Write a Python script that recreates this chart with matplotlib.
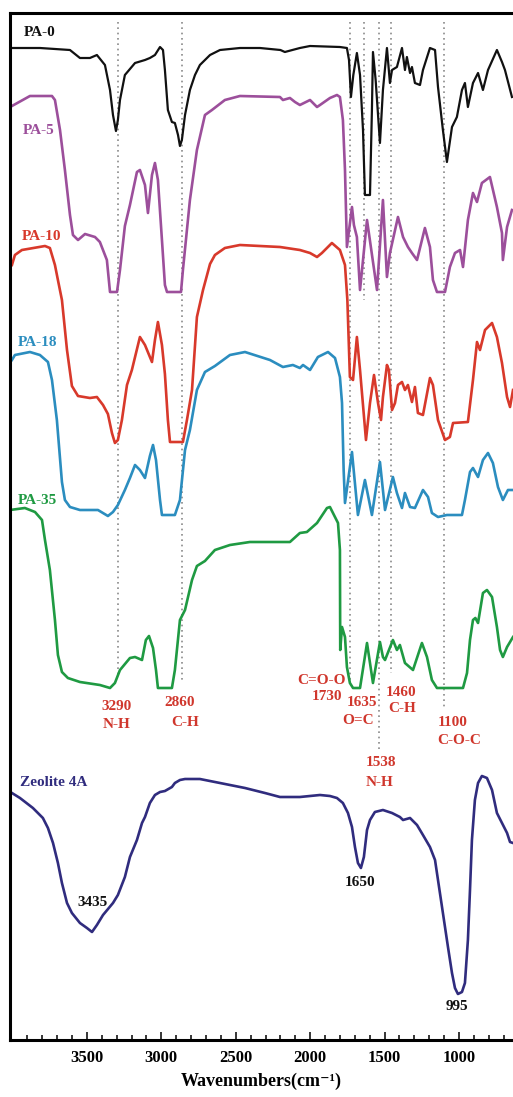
import matplotlib
matplotlib.use("Agg")
import matplotlib.pyplot as plt
from matplotlib.ticker import FixedLocator

# spectra: wavenumber (cm-1) and depth from the top of the frame
pa0_wn = [4004, 3815, 3614, 3547, 3480, 3433, 3379, 3345, 3325, 3305, 3292, 3278, 3245, 3177, 3110, 3077,
          3043, 3009, 2989, 2976, 2956, 2929, 2909, 2888, 2875, 2862, 2841, 2808, 2774, 2741, 2673, 2606,
          2472, 2337, 2200, 2170, 2069, 2001, 1800, 1753, 1739, 1726, 1710, 1686, 1665, 1645, 1632, 1598,
          1585, 1578, 1560, 1531, 1511, 1484, 1464, 1450, 1417, 1383, 1363, 1350, 1329, 1316, 1296, 1262,
          1242, 1195, 1161, 1141, 1108, 1081, 1047, 1014, 980, 960, 940, 906, 872, 839, 805, 745, 711, 691, 644]
pa0_t = [48, 48, 50, 58, 58, 55, 65, 90, 115, 131, 120, 100, 75, 63, 60, 58,
         55, 47, 50, 70, 110, 122, 123, 135, 146, 140, 115, 90, 75, 65, 55, 50,
         48, 48, 50, 52, 48, 46, 47, 48, 60, 97, 75, 53, 75, 130, 195, 195,
         110, 52, 80, 143, 90, 48, 83, 70, 67, 48, 70, 57, 73, 67, 83, 85,
         70, 48, 50, 87, 130, 162, 127, 117, 90, 83, 107, 83, 73, 90, 70, 50, 62, 70, 97]

pa5_wn = [4004, 3883, 3735, 3715, 3681, 3648, 3614, 3594, 3560, 3513, 3446, 3413, 3366, 3345, 3298, 3278,
          3245, 3211, 3164, 3144, 3110, 3090, 3063, 3043, 3023, 2996, 2976, 2962, 2868, 2855, 2808, 2761,
          2707, 2660, 2573, 2472, 2203, 2183, 2136, 2102, 2069, 2001, 1954, 1934, 1867, 1820, 1800, 1780,
          1766, 1753, 1719, 1706, 1686, 1665, 1618, 1551, 1511, 1484, 1464, 1410, 1376, 1343, 1316, 1282,
          1229, 1195, 1175, 1148, 1094, 1061, 1027, 993, 973, 940, 906, 879, 846, 792, 745, 711, 705, 677, 644]
pa5_t = [106, 96, 96, 100, 130, 170, 215, 235, 240, 234, 237, 242, 260, 292, 292, 270,
         226, 205, 172, 170, 185, 213, 175, 163, 180, 240, 285, 292, 292, 270, 200, 150,
         115, 110, 100, 96, 97, 100, 98, 102, 105, 100, 107, 105, 98, 95, 97, 120,
         170, 247, 207, 225, 237, 290, 220, 290, 200, 277, 253, 217, 237, 247, 253, 260,
         228, 247, 280, 292, 292, 267, 253, 250, 267, 220, 193, 202, 183, 177, 207, 233, 260, 227, 210]

pa10_wn = [4004, 3984, 3937, 3782, 3749, 3715, 3695, 3668, 3634, 3601, 3560, 3480, 3433, 3392, 3359, 3332,
           3312, 3292, 3265, 3231, 3198, 3144, 3110, 3063, 3043, 3023, 2996, 2976, 2956, 2942, 2855, 2828,
           2794, 2761, 2720, 2673, 2640, 2573, 2472, 2203, 2069, 2001, 1954, 1921, 1854, 1800, 1766, 1750,
           1733, 1712, 1686, 1665, 1625, 1598, 1571, 1544, 1524, 1511, 1484, 1471, 1450, 1430, 1410, 1383,
           1363, 1343, 1316, 1296, 1276, 1242, 1195, 1175, 1141, 1094, 1061, 1040, 940, 906, 879, 859,
           825, 778, 745, 711, 677, 657, 637]
pa10_t = [265, 255, 250, 246, 248, 265, 280, 300, 350, 386, 396, 398, 397, 405, 414, 433,
          443, 440, 420, 385, 370, 337, 345, 362, 340, 322, 345, 374, 420, 442, 442, 420,
          390, 317, 290, 264, 255, 248, 245, 247, 250, 253, 257, 253, 243, 250, 265, 300,
          377, 380, 337, 370, 440, 403, 375, 403, 420, 397, 365, 370, 410, 403, 385, 382,
          390, 385, 402, 387, 413, 415, 378, 385, 420, 440, 437, 423, 422, 380, 342, 350,
          330, 323, 337, 363, 397, 407, 390]

pa18_wn = [4004, 3984, 3883, 3816, 3762, 3735, 3702, 3668, 3648, 3614, 3547, 3426, 3359, 3325, 3292, 3245,
           3211, 3177, 3144, 3110, 3077, 3056, 3036, 3009, 2996, 2909, 2875, 2841, 2808, 2761, 2707, 2640,
           2539, 2438, 2270, 2183, 2116, 2069, 2048, 2001, 1948, 1880, 1833, 1800, 1786, 1775, 1766, 1719,
           1679, 1632, 1585, 1531, 1497, 1444, 1417, 1383, 1363, 1329, 1296, 1242, 1208, 1182, 1141, 1081,
           980, 960, 926, 906, 872, 839, 805, 772, 738, 705, 671, 637]
pa18_t = [360, 355, 352, 355, 362, 380, 420, 482, 500, 507, 510, 510, 516, 512, 505, 490,
          478, 465, 470, 478, 456, 445, 460, 500, 515, 515, 500, 450, 430, 390, 372, 366,
          355, 352, 360, 367, 365, 368, 365, 370, 357, 352, 358, 377, 403, 470, 503, 452,
          515, 480, 515, 462, 510, 477, 493, 508, 493, 507, 508, 490, 497, 513, 517, 515,
          515, 500, 472, 468, 477, 460, 453, 463, 487, 500, 490, 490]

pa35_wn = [4017, 3917, 3849, 3802, 3782, 3749, 3715, 3695, 3668, 3628, 3547, 3413, 3345, 3312, 3278, 3211,
           3177, 3130, 3104, 3083, 3056, 3036, 3023, 2929, 2909, 2875, 2841, 2794, 2761, 2707, 2640, 2539,
           2405, 2136, 2069, 2022, 1954, 1887, 1867, 1813, 1800, 1798, 1786, 1766, 1753, 1733, 1712, 1665,
           1618, 1578, 1531, 1511, 1497, 1444, 1417, 1397, 1363, 1309, 1249, 1215, 1182, 1148, 973, 946,
           926, 906, 890, 872, 839, 812, 778, 745, 724, 705, 677, 637]
pa35_t = [510, 508, 512, 520, 540, 570, 620, 655, 672, 678, 682, 685, 688, 683, 670, 658,
          657, 660, 640, 636, 648, 670, 688, 688, 670, 620, 610, 580, 566, 561, 550, 545,
          542, 542, 533, 532, 523, 508, 507, 523, 550, 650, 627, 637, 667, 683, 688, 688,
          643, 683, 642, 657, 660, 640, 650, 645, 663, 670, 643, 657, 680, 688, 688, 673,
          640, 620, 618, 623, 593, 590, 597, 627, 650, 657, 647, 637]

zeo_wn = [4004, 3950, 3863, 3796, 3762, 3728, 3695, 3668, 3634, 3601, 3547, 3500, 3466, 3433, 3392, 3325,
          3292, 3245, 3211, 3164, 3130, 3110, 3077, 3043, 3009, 2976, 2929, 2909, 2875, 2841, 2741, 2606,
          2438, 2304, 2203, 2069, 1934, 1867, 1820, 1780, 1746, 1719, 1699, 1679, 1659, 1639, 1618, 1598,
          1565, 1511, 1450, 1397, 1376, 1329, 1282, 1242, 1195, 1161, 1141, 1114, 1094, 1074, 1047, 1027,
          1007, 980, 960, 940, 926, 913, 893, 872, 846, 812, 778, 745, 711, 677, 657, 637]
zeo_t = [793, 798, 808, 818, 828, 843, 863, 883, 903, 913, 923, 928, 932, 925, 915, 903,
         895, 877, 857, 840, 823, 817, 803, 795, 792, 791, 787, 783, 780, 779, 779, 783,
         788, 793, 797, 797, 795, 796, 798, 803, 813, 827, 847, 863, 868, 857, 830, 820,
         812, 810, 813, 817, 820, 818, 825, 835, 847, 860, 880, 907, 927, 947, 973, 988,
         994, 992, 983, 940, 890, 840, 800, 783, 776, 778, 790, 813, 823, 833, 842, 843]

names = ["PA-0", "PA-5", "PA-10", "PA-18", "PA-35", "Zeolite 4A"]
colors = ["#111111", "#9c4f9b", "#d8392b", "#2b8dbf", "#1f9a42", "#302c7e"]
name_pos = [(3925, 32), (3930, 130), (3935, 237), (3965, 342), (3965, 500), (3950, 782)]

# dotted marker lines: wavenumber and where they stop
mark_wn = [3290, 2860, 1730, 1635, 1538, 1460, 1100]
mark_end = [677, 683, 680, 300, 750, 673, 707]

# band labels (text, wavenumber, depth)
red_labels = [("3290", 3298, 707), ("N-H", 3298, 725), ("2860", 2875, 703), ("C-H", 2841, 723),
              ("C=O-O", 1921, 680), ("1730", 1887, 697), ("1635", 1652, 703), ("O=C", 1679, 720),
              ("1460", 1390, 693), ("C-H", 1383, 708), ("1538", 1524, 762), ("N-H", 1531, 782),
              ("1100", 1040, 723), ("C-O-C", 1000, 740)]
black_labels = [("3435", 3460, 902), ("1650", 1665, 883), ("995", 1014, 1006)]

plt.rcParams['font.family'] = ['Liberation Serif', 'DejaVu Serif']

fig = plt.figure(figsize=(5.13, 10.97), dpi=100)
ax = fig.add_axes([10 / 513, 57 / 1097, 503 / 513, 1027 / 1097])

ax.vlines(mark_wn, 22, mark_end, colors="#8a8a8a", linestyles=(0, (1, 2.2)), linewidth=1.2)

series = [(pa0_wn, pa0_t), (pa5_wn, pa5_t), (pa10_wn, pa10_t),
          (pa18_wn, pa18_t), (pa35_wn, pa35_t), (zeo_wn, zeo_t)]
for (wn, t), c, nm, pos in zip(series, colors, names, name_pos):
    ax.plot(wn, t, color=c, lw=1.9 if c != "#111111" else 1.6, solid_joinstyle="round")
    ax.text(pos[0], pos[1], nm, color=c, fontsize=11, fontweight="bold", ha="left", va="center")

for txt, x, y in red_labels:
    ax.text(x, y, txt, color="#d0372d", fontsize=11, fontweight="bold", ha="center", va="center")
for txt, x, y in black_labels:
    ax.text(x, y, txt, color="#111111", fontsize=11, fontweight="bold", ha="center", va="center")

ax.set_xlim(4017, 637)
ax.set_ylim(1040, 13)
ax.set_yticks([])
ax.xaxis.set_major_locator(FixedLocator([3500, 3000, 2500, 2000, 1500, 1000]))
ax.xaxis.set_minor_locator(FixedLocator([w for w in range(3900, 600, -100) if w % 500 != 0]))
ax.tick_params(axis="x", which="major", direction="in", length=6, width=1.1, labelsize=12, pad=7)
ax.tick_params(axis="x", which="minor", direction="in", length=3.5, width=1.1)
for lbl in ax.get_xticklabels():
    lbl.set_fontweight("bold")
for side in ["top", "left", "bottom"]:
    ax.spines[side].set_linewidth(2.2)
ax.spines["right"].set_visible(False)
ax.set_xlabel("Wavenumbers(cm\u207b\u00b9)", fontsize=13, fontweight="bold", labelpad=5)

fig.savefig("out.png", dpi=100)
